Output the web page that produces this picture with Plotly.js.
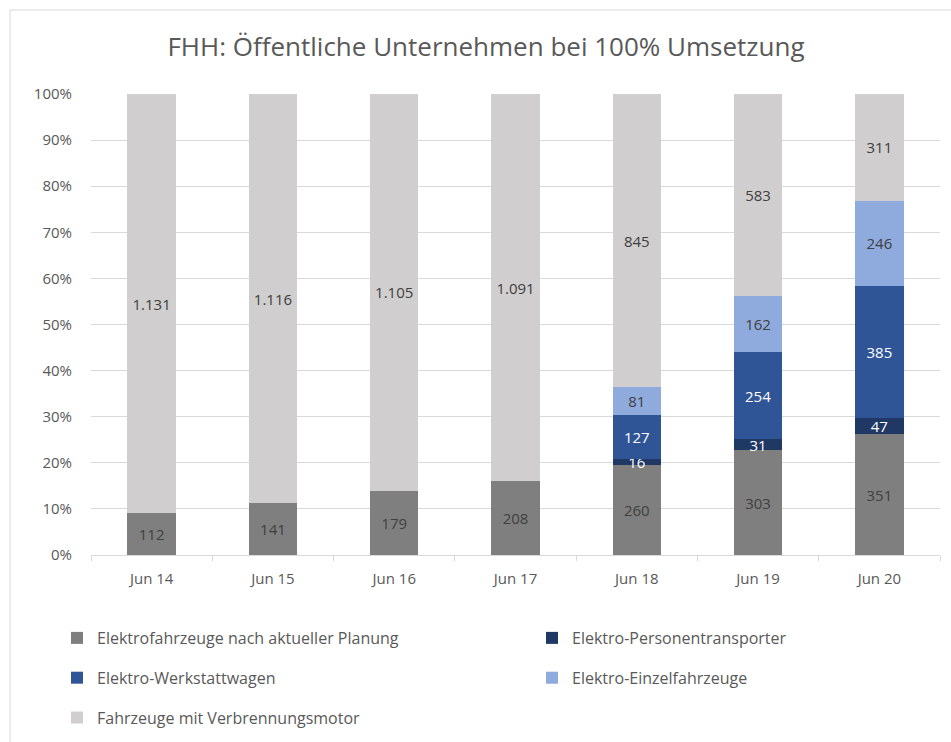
<!DOCTYPE html>
<html>
<head>
<meta charset="utf-8">
<script src="https://cdn.plot.ly/plotly-3.0.1.min.js"></script>
<style>
  html, body { margin: 0; padding: 0; background: #ffffff; }
  #chart { width: 951px; height: 742px; }
</style>
</head>
<body>
<div id="chart"></div>
<script>
// ---- Data ----
var categories = ["Jun 14", "Jun 15", "Jun 16", "Jun 17", "Jun 18", "Jun 19", "Jun 20"];
var seriesNames = [
  "Elektrofahrzeuge nach aktueller Planung",
  "Elektro-Personentransporter",
  "Elektro-Werkstattwagen",
  "Elektro-Einzelfahrzeuge",
  "Fahrzeuge mit Verbrennungsmotor"
];
var elektroPlanung      = [112, 141, 179, 208, 260, 303, 351];
var personentransporter = [null, null, null, null, 16, 31, 47];
var werkstattwagen      = [null, null, null, null, 127, 254, 385];
var einzelfahrzeuge     = [null, null, null, null, 81, 162, 246];
var verbrennungsmotor   = [1131, 1116, 1105, 1091, 845, 583, 311];
var yTickValues = [0, 10, 20, 30, 40, 50, 60, 70, 80, 90, 100];

// ---- Styling ----
var FONT = "Open Sans, Noto Sans, sans-serif";
var colors = ["#7f7f7f", "#203864", "#2f5597", "#8faadc", "#d0cece"];
var textColors = ["#404040", "#ffffff", "#ffffff", "#404040", "#404040"];
var legendOf = ["legend", "legend2", "legend", "legend2", "legend"];

function fmt(v) {
  if (v === null || v === undefined) return "";
  var s = String(Math.round(v));
  return s.replace(/\B(?=(\d{3})+(?!\d))/g, ".");
}

var seriesData = [elektroPlanung, personentransporter, werkstattwagen, einzelfahrzeuge, verbrennungsmotor];
var traces = seriesData.map(function (vals, i) {
  return {
    type: "bar",
    name: seriesNames[i],
    x: categories,
    y: vals,
    text: vals.map(fmt),
    textposition: "inside",
    insidetextanchor: "middle",
    constraintext: "none",
    textangle: 0,
    textfont: { family: FONT, size: 15, color: textColors[i] },
    marker: { color: colors[i], line: { width: 0 } },
    legend: legendOf[i],
    legendgroup: "g" + i,
    hoverinfo: "name+text"
  };
});

var legendCommon = {
  orientation: "v",
  traceorder: "grouped",
  tracegroupgap: 16,
  font: { family: FONT, size: 16, color: "#595959" },
  bgcolor: "rgba(0,0,0,0)",
  xanchor: "left",
  yanchor: "top",
  itemclick: false,
  itemdoubleclick: false
};

var layout = {
  width: 951,
  height: 742,
  paper_bgcolor: "#ffffff",
  plot_bgcolor: "#ffffff",
  margin: { l: 91, r: 11, t: 94, b: 187, autoexpand: false },
  barmode: "stack",
  barnorm: "percent",
  bargap: 0.6,
  font: { family: FONT, color: "#595959" },
  title: {
    text: "FHH: Öffentliche Unternehmen bei 100% Umsetzung",
    font: { family: FONT, size: 26, color: "#595959" },
    xref: "container",
    x: 0.511,
    xanchor: "center",
    yref: "container",
    y: 1 - 47 / 742,
    yanchor: "middle"
  },
  xaxis: {
    type: "category",
    tickson: "boundaries",
    ticks: "outside",
    ticklen: 5,
    tickcolor: "#d9d9d9",
    showline: true,
    linecolor: "#d9d9d9",
    linewidth: 1,
    ticklabelstandoff: 10,
    tickfont: { family: FONT, size: 15, color: "#595959" },
    showgrid: false,
    fixedrange: true
  },
  yaxis: {
    range: [0, 100],
    tickvals: yTickValues,
    ticktext: yTickValues.map(function (v) { return v + "%"; }),
    showgrid: true,
    gridcolor: "#d9d9d9",
    gridwidth: 1,
    zeroline: false,
    showline: false,
    ticks: "",
    ticklabelstandoff: 18,
    tickfont: { family: FONT, size: 15, color: "#595959" },
    fixedrange: true
  },
  legend: Object.assign({}, legendCommon, { x: (57 - 91) / 849, y: -(621 - 555) / 461 }),
  legend2: Object.assign({}, legendCommon, { x: (532 - 91) / 849, y: -(621 - 555) / 461 }),
  shapes: [{
    type: "rect",
    xref: "paper", yref: "paper",
    x0: (10 - 91) / 849, x1: 1.05,
    y0: -0.45, y1: 1 + (94 - 10) / 461,
    line: { color: "#d9d9d9", width: 1 },
    fillcolor: "rgba(0,0,0,0)",
    layer: "below"
  }]
};

Plotly.newPlot("chart", traces, layout, { displayModeBar: false, staticPlot: true });
</script>
</body>
</html>
